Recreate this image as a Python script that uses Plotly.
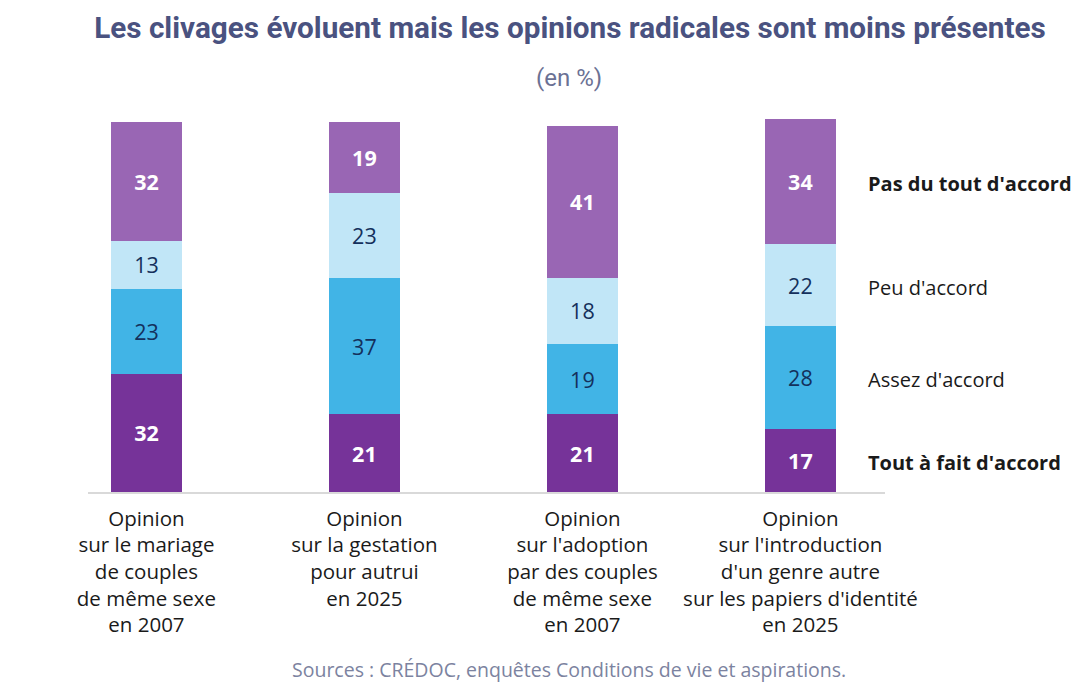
import plotly.graph_objects as go

categories = [
    "Opinion<br>sur le mariage<br>de couples<br>de même sexe<br>en 2007",
    "Opinion<br>sur la gestation<br>pour autrui<br>en 2025",
    "Opinion<br>sur l'adoption<br>par des couples<br>de même sexe<br>en 2007",
    "Opinion<br>sur l'introduction<br>d'un genre autre<br>sur les papiers d'identité<br>en 2025",
]
series_names = ["Tout à fait d'accord", "Assez d'accord", "Peu d'accord", "Pas du tout d'accord"]
tout_a_fait = [32, 21, 21, 17]
assez = [23, 37, 19, 28]
peu = [13, 23, 18, 22]
pas_du_tout = [32, 19, 41, 34]

series_values = [tout_a_fait, assez, peu, pas_du_tout]
colors = ["#763399", "#41B4E6", "#C1E6F7", "#9966B4"]
text_colors = ["#FFFFFF", "#14305C", "#14305C", "#FFFFFF"]
bold = [True, False, False, True]

FONT = "Open Sans, sans-serif"

fig = go.Figure()
for name, vals, col, tcol, b in zip(series_names, series_values, colors, text_colors, bold):
    fig.add_trace(go.Bar(
        x=categories, y=vals, name=name,
        marker=dict(color=col, line=dict(width=0)),
        text=[f"<b>{v}</b>" if b else str(v) for v in vals],
        textposition="inside", insidetextanchor="middle",
        textfont=dict(color=tcol, size=21.5, family=FONT),
        width=0.326, hoverinfo="skip",
    ))

fig.update_layout(
    width=1090, height=691,
    barmode="stack", showlegend=False,
    plot_bgcolor="white", paper_bgcolor="white",
    margin=dict(l=80, r=213, t=107, b=207),
    title=dict(
        text="<b>Les clivages évoluent mais les opinions radicales sont moins présentes</b>",
        x=0.5156, xanchor="center", xref="container", y=1 - 20 / 691, yref="container", yanchor="middle",
        font=dict(size=29.7, color="#4A5280", family="Roboto, sans-serif"),
    ),
    xaxis=dict(
        range=[-0.268, 3.388], showline=True, linecolor="#D9D9D9", linewidth=2,
        showgrid=False, ticks="", automargin=False, ticklabelstandoff=7,
        tickfont=dict(size=20.5, color="#1a1a1a", family=FONT),
        fixedrange=True,
    ),
    yaxis=dict(range=[0, 102], visible=False, fixedrange=True, automargin=False),
)

# legend labels at the right, aligned on the last bar segments
cum = 0
last_vals = [s[-1] for s in series_values]
for name, v, b in zip(series_names, last_vals, bold):
    mid = cum + v / 2
    cum += v
    fig.add_annotation(
        x=categories[-1], y=mid, xref="x", yref="y",
        text=f"<b>{name}</b>" if b else name,
        showarrow=False, xanchor="left", xshift=66, yshift=-2,
        font=dict(size=20, color="#1a1a1a", family=FONT),
    )

fig.add_annotation(
    x=0.6035, xref="paper", y=1, yref="paper", yanchor="middle", yshift=37,
    text="(en %)", showarrow=False,
    font=dict(size=24, color="#6B7194", family="Roboto, sans-serif"),
)
fig.add_annotation(
    x=0.6035, xref="paper", y=0, yref="paper", yanchor="middle", yshift=-177,
    text="Sources : CRÉDOC, enquêtes Conditions de vie et aspirations.",
    showarrow=False, font=dict(size=19.5, color="#7C83A0", family=FONT),
)

fig.write_html("out.html")
